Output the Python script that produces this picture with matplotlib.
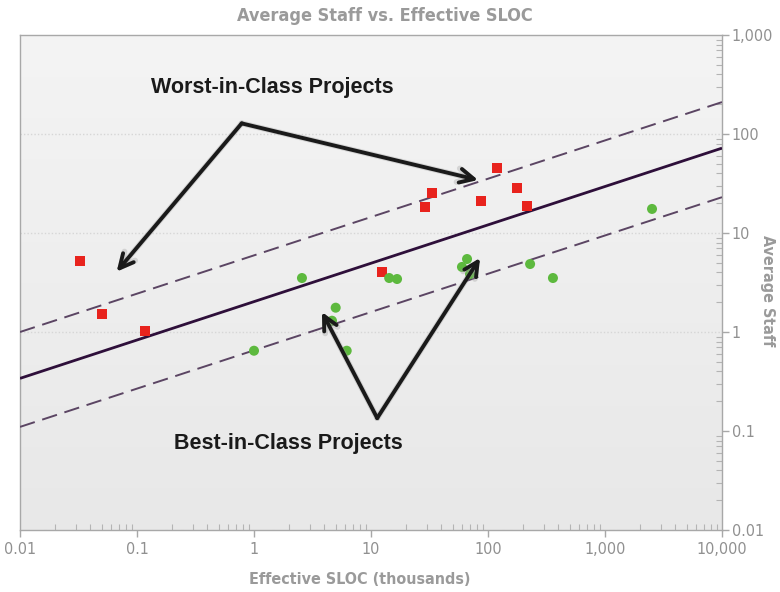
import matplotlib
matplotlib.use("Agg")
import matplotlib.pyplot as plt
import numpy as np
from matplotlib import font_manager
from matplotlib.ticker import FixedLocator, LogLocator, NullFormatter

# ---- data -------------------------------------------------------------
worst_x = [0.0326, 0.0499, 0.118, 12.4, 28.9, 33.2, 87.1, 119, 177, 215]
worst_y = [5.21, 1.52, 1.03, 4.04, 18.3, 25.4, 21.1, 45.4, 28.5, 18.7]

best_x = [1.0, 2.57, 4.64, 4.99, 6.20, 14.3, 16.7, 59.9, 66.2, 70.2, 229, 359, 2523]
best_y = [0.647, 3.51, 1.30, 1.76, 0.647, 3.51, 3.43, 4.54, 5.46, 3.85, 4.86, 3.51, 17.5]

trend_x = [0.01, 10000]
trend_mid = [0.34, 72]
trend_upper = [1.0, 210]
trend_lower = [0.11, 23]

x_ticks = [0.01, 0.1, 1, 10, 100, 1000, 10000]
x_tick_labels = ["0.01", "0.1", "1", "10", "100", "1,000", "10,000"]
y_ticks = [0.01, 0.1, 1, 10, 100, 1000]
y_tick_labels = ["0.01", "0.1", "1", "10", "100", "1,000"]

# ---- fonts ------------------------------------------------------------
# prefer a condensed face for the grey axis text, if one is installed
narrow_file = None
for f in font_manager.fontManager.ttflist:
    fn = f.fname.lower()
    if ("narrow" in fn or "condensed" in fn) and "oblique" not in fn and "italic" not in fn:
        if "bold" not in fn and narrow_file is None:
            narrow_file = f.fname
narrow_bold_file = None
for f in font_manager.fontManager.ttflist:
    fn = f.fname.lower()
    if ("narrow" in fn or "condensed" in fn) and "bold" in fn \
            and "oblique" not in fn and "italic" not in fn:
        narrow_bold_file = f.fname
        break

plt.rcParams["font.family"] = ["Liberation Sans", "DejaVu Sans"]

def narrow_props(bold, size):
    path = narrow_bold_file if bold else narrow_file
    if path:
        return font_manager.FontProperties(fname=path, size=size)
    return font_manager.FontProperties(family="Liberation Sans",
                                       weight="bold" if bold else "normal",
                                       size=size * 0.9)

tick_font = narrow_props(False, 11.5)
title_font = narrow_props(True, 13)
axis_label_font = narrow_props(True, 11.5)

fig = plt.figure(figsize=(7.8, 5.92), dpi=100)
fig.patch.set_facecolor("white")
ax = fig.add_axes([20 / 780, 1 - 530 / 592, 702 / 780, 495 / 592])

ax.set_xscale("log")
ax.set_yscale("log")
ax.set_xlim(0.01, 10000)
ax.set_ylim(0.01, 1000)

# soft grey background, lighter towards the top
grad = np.linspace(0, 1, 256).reshape(-1, 1)
ax.imshow(grad, extent=[0, 1, 0, 1], transform=ax.transAxes, aspect="auto",
          cmap=matplotlib.colors.LinearSegmentedColormap.from_list(
              "bg", ["#e8e8e8", "#f4f4f4"]),
          origin="lower", zorder=0)

# faint dotted decade lines
for yv in [1, 10, 100]:
    ax.axhline(yv, color="#d6d6d6", lw=1.0, ls=(0, (1, 1.5)), zorder=1)

# trend line and bands
line_col = "#2e0f3a"
band_col = "#5b4563"
ax.plot(trend_x, trend_mid, color=line_col, lw=2.0, zorder=3, solid_capstyle="butt")
ax.plot(trend_x, trend_upper, color=band_col, lw=1.4, ls=(0, (8, 4)), zorder=3)
ax.plot(trend_x, trend_lower, color=band_col, lw=1.4, ls=(0, (8, 4)), zorder=3)

# project markers
ax.scatter(worst_x, worst_y, marker="s", s=52, color="#e8231d", edgecolors="none", zorder=5)
ax.scatter(best_x, best_y, marker="o", s=52, color="#5db93e", edgecolors="none", zorder=5)

# callout arrows
def callout(vertex, tips):
    for tip in tips:
        ax.annotate("", xy=tip, xytext=vertex, zorder=6,
                    arrowprops=dict(arrowstyle="->,head_length=1.0,head_width=0.5",
                                    color="#a0a0a0", lw=4.2, alpha=0.35,
                                    shrinkA=0, shrinkB=0))
        ax.annotate("", xy=tip, xytext=vertex, zorder=7,
                    arrowprops=dict(arrowstyle="->,head_length=1.0,head_width=0.5",
                                    color="#1a1a1a", lw=2.8,
                                    shrinkA=0, shrinkB=0))

callout((0.785, 128), [(0.067, 4.07), (82.2, 34.3)])
callout((11.3, 0.135), [(3.81, 1.59), (85.5, 5.59)])

fig.text(272 / 780, 1 - 88 / 592, "Worst-in-Class Projects", ha="center", va="center",
         fontsize=15.5, fontweight="bold", color="#1a1a1a")
fig.text(288 / 780, 1 - 444 / 592, "Best-in-Class Projects", ha="center", va="center",
         fontsize=15.5, fontweight="bold", color="#1a1a1a")

# axes styling
for side in ["left", "top", "bottom", "right"]:
    ax.spines[side].set_color("#a8a8a8")
    ax.spines[side].set_linewidth(1.0)

ax.yaxis.tick_right()
ax.yaxis.set_label_position("right")
ax.xaxis.set_major_locator(FixedLocator(x_ticks))
ax.set_xticklabels(x_tick_labels, fontproperties=tick_font)
ax.yaxis.set_major_locator(FixedLocator(y_ticks))
ax.set_yticklabels(y_tick_labels, fontproperties=tick_font)
ax.xaxis.set_minor_locator(LogLocator(base=10, subs=np.arange(2, 10), numticks=20))
ax.yaxis.set_minor_locator(LogLocator(base=10, subs=np.arange(2, 10), numticks=20))
ax.xaxis.set_minor_formatter(NullFormatter())
ax.yaxis.set_minor_formatter(NullFormatter())

ax.tick_params(axis="both", which="major", length=5, width=1, color="#a8a8a8",
               labelcolor="#909090", direction="out")
ax.tick_params(axis="both", which="minor", length=4, width=0.8, color="#b4b4b4",
               direction="in")
ax.tick_params(axis="x", which="major", pad=4)
ax.tick_params(axis="y", which="major", pad=2)

fig.text(385 / 780, 1 - 16 / 592, "Average Staff vs. Effective SLOC", ha="center", va="center",
         fontproperties=title_font, color="#9a9a9a")
fig.text(360 / 780, 1 - 580 / 592, "Effective SLOC (thousands)", ha="center", va="center",
         fontproperties=axis_label_font, color="#9a9a9a")
fig.text(767 / 780, 1 - 291 / 592, "Average Staff", ha="center", va="center", rotation=-90,
         fontproperties=axis_label_font, color="#9a9a9a")

fig.savefig("out.png", dpi=100, facecolor="white")
